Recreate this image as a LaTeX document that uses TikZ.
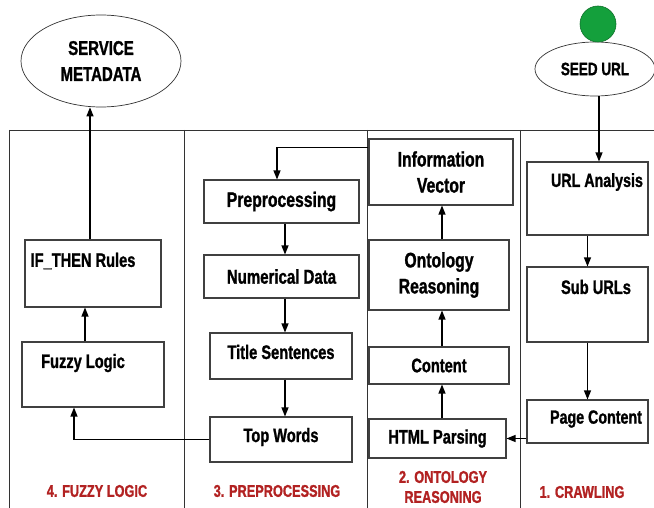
\documentclass[tikz,border=0pt]{standalone}
\usepackage{fontspec}
\setmainfont{Liberation Sans}[FakeStretch=0.75,BoldFeatures={FakeBold=1.2}]
\usetikzlibrary{arrows.meta,shapes.geometric,calc}
\definecolor{lblred}{RGB}{178,34,34}
\definecolor{seedgreen}{RGB}{20,160,60}
\begin{document}
\begin{tikzpicture}[x=1pt,y=-1pt,
  txt/.style={font=\fontsize{19.5}{26}\selectfont\bfseries,align=center,inner sep=0pt},
  box/.style={draw=black!75,line width=1.1pt,rectangle,inner sep=0pt,align=center,
    font=\fontsize{19.5}{26}\selectfont\bfseries},
  big/.style={font=\fontsize{21}{26}\selectfont\bfseries},
  oval/.style={draw=black!80,line width=0.7pt,ellipse,inner sep=0pt,align=center},
  arr/.style={line width=1.2pt,-{Triangle[length=9pt,width=7pt]}},
  frame/.style={line width=0.8pt,black!80},
  lbl/.style={text=lblred,align=center,font=\fontsize{17}{20}\selectfont\bfseries}]
\useasboundingbox (0,0) rectangle (654,508);
% frame
\draw[frame] (9,130) -- (654,130);
\draw[frame] (9,130) -- (9,508);
\draw[frame] (184,130) -- (184,508);
\draw[frame] (367,130) -- (367,508);
\draw[frame] (520,130) -- (520,508);
% ellipses
\node[oval,minimum width=160,minimum height=92,font=\fontsize{20}{26}\selectfont\bfseries] (service) at (101,61) {SERVICE\\METADATA};
\node[oval,minimum width=120,minimum height=54,font=\fontsize{18}{20}\selectfont\bfseries] (seed) at (595,69) {SEED URL};
\node[circle,fill=seedgreen,draw=seedgreen!70!black,line width=0.6pt,minimum size=36,inner sep=0pt] (dot) at (598,24) {};
% crawling
\node[box,minimum width=121,minimum height=73] (urlan) at (587.5,198.5) {};
\node[box,minimum width=121,minimum height=75] (suburl) at (587.5,304.5) {};
\node[box,minimum width=121,minimum height=43] (page) at (587.5,421.5) {};
\node[txt,font=\fontsize{19}{26}\selectfont\bfseries] (turlan) at (597,182) {URL Analysis};
\node[txt] (tsuburl) at (596,287) {Sub URLs};
\node[txt,font=\fontsize{19}{26}\selectfont\bfseries] (tpage) at (596,419) {Page Content};
% ontology
\node[box,big,minimum width=144,minimum height=66] (ivec) at (441,172) {Information\\Vector};
\node[box,big,minimum width=140,minimum height=70] (onto) at (439,275) {Ontology\\Reasoning};
\node[box,minimum width=140,minimum height=37] (content) at (439,365.5) {Content};
\node[box,minimum width=137,minimum height=39] (html) at (437.5,438.5) {HTML Parsing};
% preprocessing
\node[box,big,minimum width=155,minimum height=43] (prep) at (281.5,201.5) {Preprocessing};
\node[box,font=\fontsize{20}{26}\selectfont\bfseries,minimum width=155,minimum height=43] (numd) at (281.5,276.5) {Numerical Data};
\node[box,minimum width=142,minimum height=46] (title) at (281,356) {};
\node[txt] (ttitle) at (281,352) {Title Sentences};
\node[box,minimum width=142,minimum height=45] (topw) at (281,439.5) {};
\node[txt] (ttopw) at (281,437) {Top Words};
% fuzzy
\node[box,minimum width=136,minimum height=67] (ifthen) at (93,273.5) {};
\node[txt] (tifthen) at (83,261) {IF\_THEN Rules};
\node[box,minimum width=142,minimum height=65] (fuzzy) at (93,374.5) {};
\node[txt] (tfuzzy) at (83,363) {Fuzzy Logic};
% labels
\node[lbl] (l4) at (97,491) {4. FUZZY LOGIC};
\node[lbl] (l3) at (277,491) {3. PREPROCESSING};
\node[lbl] (l2) at (443,487) {2. ONTOLOGY\\REASONING};
\node[lbl] (l1) at (582,492) {1. CRAWLING};
% connectors
\draw[arr] ([xshift=4pt]seed.south) -- ([xshift=4pt]seed.south |- urlan.north);
\draw[arr] (urlan.south) -- (suburl.north);
\draw[arr] (suburl.south) -- (page.north);
\draw[arr] (html.east -| page.west) -- (html.east);
\draw[arr] ([xshift=4.5pt]html.north) -- ([xshift=4.5pt]html.north |- content.south);
\draw[arr] ([xshift=3pt]content.north) -- ([xshift=3pt]onto.south);
\draw[arr] ([xshift=3pt]onto.north) -- ([xshift=3pt]onto.north |- ivec.south);
\draw[arr] ([yshift=-9pt]ivec.north west) -| ([xshift=-4.5pt]prep.north);
\draw[arr] ([xshift=3.5pt]prep.south) -- ([xshift=3.5pt]numd.north);
\draw[arr] ([xshift=3.5pt]numd.south) -- ([xshift=4pt]title.north);
\draw[arr] ([xshift=4pt]title.south) -- ([xshift=4pt]topw.north);
\draw[arr] (topw.west) -| ([xshift=-19pt]fuzzy.south);
\draw[arr] ([xshift=-8pt]fuzzy.north) -- ([xshift=-8pt]ifthen.south);
\draw[arr] ([xshift=-3pt]ifthen.north) -- ([xshift=-3pt]ifthen.north |- service.south);
\end{tikzpicture}
\end{document}
